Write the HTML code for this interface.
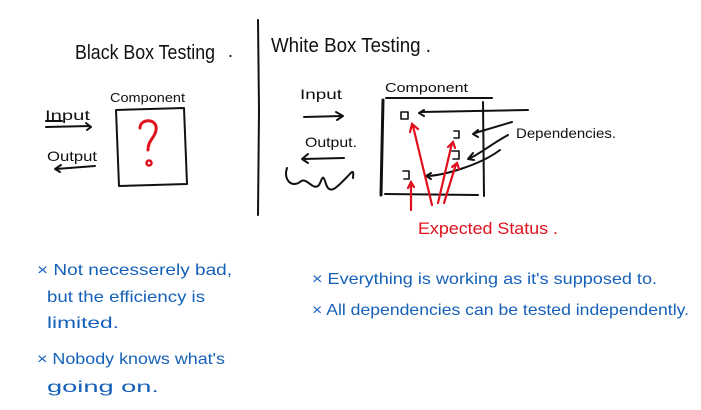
<!DOCTYPE html>
<html><head><meta charset="utf-8"><style>
html,body{margin:0;padding:0;background:#fff;}
svg{display:block}
text{font-family:"Liberation Sans",sans-serif;}
.k{fill:#111}
.b{fill:#1560b8;font-size:16px}
</style></head><body>
<svg width="701" height="410" viewBox="0 0 701 410" xmlns="http://www.w3.org/2000/svg">
<g stroke="#111" stroke-width="2" fill="none" stroke-linecap="round" stroke-linejoin="round">
<path d="M258 20 L259 110 L258 215"/>
<path d="M116 110 L184 108 L187 184 L119 186 Z"/>
<path d="M46 127 L90 126 M86 123 L91 127 L87 130"/>
<path d="M46 121 L62 121"/>
<path d="M95 166 L56 169 M61 165 L55 169 L60 172"/>
<path d="M304 117 L342 116 M336 112 L343 116 L337 120"/>
<path d="M344 158 L303 159 M308 154 L302 159 L308 163"/>
<path d="M287 168 C283 180 292 188 300 182 C306 176 312 190 318 186 C322 183 322 170 326 184 C330 196 338 186 346 178 C352 172 354 168 353 178"/>
<path d="M386 98 L492 98"/>
<path d="M383 100 L381 195" stroke-width="3"/>
<path d="M483 102 L484 196"/>
<path d="M385 194 L478 195"/>
<path d="M401 112 h7 v7 h-7 z" stroke-width="1.6"/>
<path d="M454 131 h5 v7 h-5" stroke-width="1.6"/>
<path d="M452 151 h7 v8 h-6" stroke-width="1.6"/>
<path d="M403 171 h6 v8 h-5" stroke-width="1.6"/>
<path d="M528 110 L421 112 M424 110 L419 113 L424 116"/>
<path d="M512 122 L475 133 M478 130 L473 134 L478 137"/>
<path d="M508 135 C490 145 478 155 470 158 M473 153 L468 159 L474 160"/>
<path d="M500 150 C480 165 445 175 428 176 M431 173 L426 176 L431 179"/>
</g>
<g stroke="#e0101e" stroke-width="2.2" fill="none" stroke-linecap="round">
<path d="M411 210 L411 183 M408 188 L411 182 L414 187"/>
<path d="M432 205 L413 126 M410 132 L412 124 L418 129"/>
<path d="M438 203 L452 143 M448 147 L453 142 L455 148"/>
<path d="M444 203 L456 164 M452 167 L457 163 L459 169"/>
<path d="M140 128 C140 118 158 118 156 130 C155 138 148 140 148 150" stroke-width="3"/>
<circle cx="149" cy="163" r="2.5" stroke-width="2.5"/>
</g>
<text class="k" x="75" y="59" font-size="20" textLength="140" lengthAdjust="spacingAndGlyphs">Black Box Testing</text>
<text class="k" x="228" y="57" font-size="18">.</text>
<text class="k" x="110" y="102" font-size="13" textLength="75" lengthAdjust="spacingAndGlyphs">Component</text>
<text class="k" x="45" y="120" font-size="14" textLength="45" lengthAdjust="spacingAndGlyphs">Input</text>
<text class="k" x="47" y="161" font-size="14" textLength="50" lengthAdjust="spacingAndGlyphs">Output</text>
<text class="k" x="271" y="52" font-size="20" textLength="160" lengthAdjust="spacingAndGlyphs">White Box Testing .</text>
<text class="k" x="300" y="99" font-size="14" textLength="42" lengthAdjust="spacingAndGlyphs">Input</text>
<text class="k" x="305" y="147" font-size="14" textLength="52" lengthAdjust="spacingAndGlyphs">Output.</text>
<text class="k" x="385" y="92" font-size="13" textLength="83" lengthAdjust="spacingAndGlyphs">Component</text>
<text class="k" x="516" y="138" font-size="14" textLength="100" lengthAdjust="spacingAndGlyphs">Dependencies.</text>
<text x="418" y="234" font-size="17" fill="#e0101e" textLength="140" lengthAdjust="spacingAndGlyphs">Expected Status .</text>
<text class="b" x="37" y="275" textLength="195" lengthAdjust="spacingAndGlyphs">× Not necesserely bad,</text>
<text class="b" x="47" y="302" textLength="158" lengthAdjust="spacingAndGlyphs">but the efficiency is</text>
<text class="b" x="47" y="328" textLength="72" lengthAdjust="spacingAndGlyphs">limited.</text>
<text class="b" x="37" y="364" textLength="188" lengthAdjust="spacingAndGlyphs">× Nobody knows what's</text>
<text class="b" x="47" y="392" textLength="112" lengthAdjust="spacingAndGlyphs">going on.</text>
<text class="b" x="312" y="284" textLength="345" lengthAdjust="spacingAndGlyphs">× Everything is working as it's supposed to.</text>
<text class="b" x="312" y="315" textLength="377" lengthAdjust="spacingAndGlyphs">× All dependencies can be tested independently.</text>
</svg>
</body></html>
